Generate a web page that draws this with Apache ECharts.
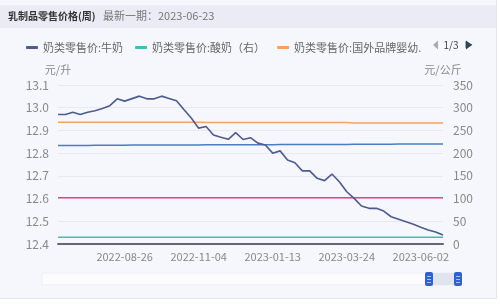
<!DOCTYPE html>
<html>
<head>
<meta charset="utf-8">
<script src="https://cdn.jsdelivr.net/npm/echarts@6/dist/echarts.min.js"></script>
<style>
html,body{margin:0;padding:0;background:#ffffff;}
#c{width:500px;height:304px;}
</style>
</head>
<body>
<div id="c"></div>
<script>
var dates = ['2022-06-24','2022-07-01','2022-07-08','2022-07-15','2022-07-22','2022-07-29','2022-08-05','2022-08-12','2022-08-19','2022-08-26',
'2022-09-02','2022-09-09','2022-09-16','2022-09-23','2022-09-30','2022-10-07','2022-10-14','2022-10-21','2022-10-28','2022-11-04',
'2022-11-11','2022-11-18','2022-11-25','2022-12-02','2022-12-09','2022-12-16','2022-12-23','2022-12-30','2023-01-06','2023-01-13',
'2023-01-20','2023-01-27','2023-02-03','2023-02-10','2023-02-17','2023-02-24','2023-03-03','2023-03-10','2023-03-17','2023-03-24',
'2023-03-31','2023-04-07','2023-04-14','2023-04-21','2023-04-28','2023-05-05','2023-05-12','2023-05-19','2023-05-26','2023-06-02',
'2023-06-09','2023-06-16','2023-06-23'];

var milk = [12.97,12.97,12.98,12.97,12.98,12.987,12.997,13.009,13.039,13.029,
13.04,13.051,13.039,13.039,13.051,13.041,13.031,12.992,12.955,12.91,
12.917,12.88,12.87,12.861,12.89,12.86,12.868,12.844,12.836,12.80,
12.81,12.77,12.758,12.722,12.722,12.689,12.679,12.708,12.674,12.63,
12.601,12.567,12.557,12.557,12.545,12.52,12.509,12.498,12.487,12.474,
12.462,12.453,12.44];

var yogurt = [14.7,14.7,14.7,14.7,14.7,14.7,14.7,14.7,14.7,14.7,
14.7,14.7,14.7,14.7,14.7,14.7,14.7,14.7,14.7,14.7,
14.7,14.7,14.7,14.7,14.7,14.7,14.7,14.7,14.7,14.7,
14.7,14.7,14.7,14.7,14.7,14.7,14.7,14.7,14.7,14.7,
14.7,14.7,14.7,14.7,14.7,14.7,14.7,14.7,14.7,14.7,
14.7,14.7,14.7];

var foreignFormula = [268,268,268,268,268,268,268,268,268,268,
268,268,268,268,268,268,268,268,268,268,
267.5,267.5,267.5,267.5,267.5,267.5,267.5,267.5,267.5,267.5,
267.5,267.5,267.5,267.5,267.5,267.5,267.5,267.5,267.5,267.5,
266.5,266.5,266.5,266.5,266.5,266.5,266.5,266.5,266.5,266.5,
266.5,266.5,266.5];

var domesticFormula = [217,217,217,217,217,217.5,217.5,217.5,217.5,217.5,
218,218,218,218,218,218,218,218,218,218,
218.5,218.5,218.5,218.5,218.5,218.5,218.5,218.5,218.5,218.5,
219,219,219,219,219,219,219,219,219,219,
219.5,219.5,219.5,219.5,219.5,219.5,220,220,220,220,
220,220,220];

var seniorPowder = [102,102,102,102,102,102,102,102,102,102,
102,102,102,102,102,102,102,102,102,102,
102,102,102,102,102,102,102,102,102,102,
102,102,102,102,102,102,102,102,102,102,
102,102,102,102,102,102,102,102,102,102,
102,102,102];

var seriesNames = ['奶类零售价:牛奶','奶类零售价:酸奶（右）','奶类零售价:国外品牌婴幼儿奶粉（右）','奶类零售价:国内品牌婴幼儿奶粉（右）','奶类零售价:中老年奶粉（右）'];
var leftTicks = ['12.4','12.5','12.6','12.7','12.8','12.9','13.0','13.1'];
var rightTicks = ['0','50','100','150','200','250','300','350'];
var legendPage = '1/3';

var FONT = '"Noto Sans CJK SC","Noto Sans",sans-serif';
var chart = echarts.init(document.getElementById('c'), null, {renderer:'canvas'});

function line(name, data, color, yIdx, width, z) {
  return {name:name, type:'line', data:data, yAxisIndex:yIdx, showSymbol:false, symbol:'none',
    lineStyle:{color:color, width:width}, itemStyle:{color:color}, z:z||2, animation:false};
}

chart.setOption({
  backgroundColor:'#f6f7fc',
  animation:false,
  textStyle:{fontFamily:FONT},
  graphic:[
    {type:'rect', z:-10, shape:{x:0,y:5,width:497,height:23}, style:{fill:'#eaebf4'}},
    {type:'text', z:10, x:8, y:16, style:{text:'乳制品零售价格(周)', font:'bold 10px '+FONT, fill:'#333', textVerticalAlign:'middle'}},
    {type:'text', z:10, x:103, y:16, style:{text:'最新一期：2023-06-23', font:'11px '+FONT, fill:'#777', textVerticalAlign:'middle'}},
    {type:'rect', z:-10, shape:{x:497,y:0,width:3,height:304}, style:{fill:'#ffffff'}},
    {type:'rect', z:-10, shape:{x:0,y:299,width:500,height:5}, style:{fill:'#ffffff'}},
    {type:'line', z:-9, shape:{x1:496.5,y1:0,x2:496.5,y2:299}, style:{stroke:'#e3e4ee',lineWidth:1}},
    {type:'line', z:-9, shape:{x1:0,y1:298.5,x2:497,y2:298.5}, style:{stroke:'#e3e4ee',lineWidth:1}},
    {type:'polygon', z:10, shape:{points:[[433,45],[438,40.5],[438,49.5]]}, style:{fill:'#aaaaaa'}},
    {type:'text', z:10, x:451, y:45, style:{text:legendPage, font:'10px '+FONT, fill:'#444', textAlign:'center', textVerticalAlign:'middle'}},
    {type:'polygon', z:11, shape:{points:[[466,40.5],[472,45],[466,49.5]]}, style:{fill:'#2f4554'}},
    {type:'text', z:11, x:469, y:45, style:{text:'▶', font:'9px "DejaVu Sans"', fill:'#2f4554', textAlign:'center', textVerticalAlign:'middle'}},
    {type:'rect', z:5, shape:{x:42,y:273,width:417,height:12}, style:{fill:'#fcfcff', stroke:'#edeef5', lineWidth:1}},
    {type:'rect', z:6, shape:{x:431,y:273,width:24,height:12}, style:{fill:'#dfe4ef'}},
    {type:'rect', z:7, shape:{x:425,y:272,width:8,height:14, r:2}, style:{fill:'#2f62cc'}},
    {type:'rect', z:7, shape:{x:454,y:272,width:8,height:14, r:2}, style:{fill:'#2f62cc'}},
    {type:'line', z:8, shape:{x1:427,y1:276.5,x2:431,y2:276.5}, style:{stroke:'#a9c2f0',lineWidth:1}},
    {type:'line', z:8, shape:{x1:427,y1:279.5,x2:431,y2:279.5}, style:{stroke:'#a9c2f0',lineWidth:1}},
    {type:'line', z:8, shape:{x1:427,y1:282.5,x2:431,y2:282.5}, style:{stroke:'#a9c2f0',lineWidth:1}},
    {type:'line', z:8, shape:{x1:456,y1:276.5,x2:460,y2:276.5}, style:{stroke:'#a9c2f0',lineWidth:1}},
    {type:'line', z:8, shape:{x1:456,y1:279.5,x2:460,y2:279.5}, style:{stroke:'#a9c2f0',lineWidth:1}},
    {type:'line', z:8, shape:{x1:456,y1:282.5,x2:460,y2:282.5}, style:{stroke:'#a9c2f0',lineWidth:1}}
  ],
  legend:{
    type:'plain', left:21, top:37, itemGap:12,
    itemWidth:12, itemHeight:3, icon:'roundRect',
    textStyle:{color:'#666', fontSize:11, fontFamily:FONT},
    data:[
      {name:seriesNames[0]},
      {name:seriesNames[1]},
      {name:seriesNames[2], textStyle:{width:136, overflow:'truncate', ellipsis:'.'}}
    ]
  },
  grid:{left:58, right:57, top:85, bottom:60},
  xAxis:{
    type:'category', data:dates, boundaryGap:false,
    axisLine:{show:true, lineStyle:{color:'#636879', width:2}},
    axisTick:{show:false},
    axisLabel:{color:'#888', fontSize:11, margin:7, interval:function(i){return i % 10 === 9;}},
    splitLine:{show:false}
  },
  yAxis:[
    {type:'value', min:12.4, max:13.1, interval:0.1, name:'元/升', nameGap:10,
      nameTextStyle:{color:'#888', fontSize:11},
      axisLine:{show:false}, axisTick:{show:false},
      axisLabel:{color:'#888', fontSize:12, margin:9, formatter:function(v){var s=v.toFixed(1); return leftTicks.indexOf(s)>=0?s:'';}},
      splitLine:{show:true, lineStyle:{color:'#e8eaf3'}}},
    {type:'value', min:0, max:350, interval:50, name:'元/公斤', nameGap:10,
      nameTextStyle:{color:'#888', fontSize:11},
      axisLine:{show:false}, axisTick:{show:false},
      axisLabel:{color:'#888', fontSize:12, margin:10, formatter:function(v){var s=String(v); return rightTicks.indexOf(s)>=0?s:'';}},
      splitLine:{show:false}}
  ],
  series:[
    line(seriesNames[0], milk, '#4d5b8f', 0, 1.6, 5),
    line(seriesNames[1], yogurt, '#3fc1b2', 1, 1.5),
    line(seriesNames[2], foreignFormula, '#f6a25e', 1, 1.5),
    line(seriesNames[3], domesticFormula, '#4a7ec0', 1, 1.5),
    line(seriesNames[4], seniorPowder, '#d8488c', 1, 1.5)
  ]
});
</script>
</body>
</html>
